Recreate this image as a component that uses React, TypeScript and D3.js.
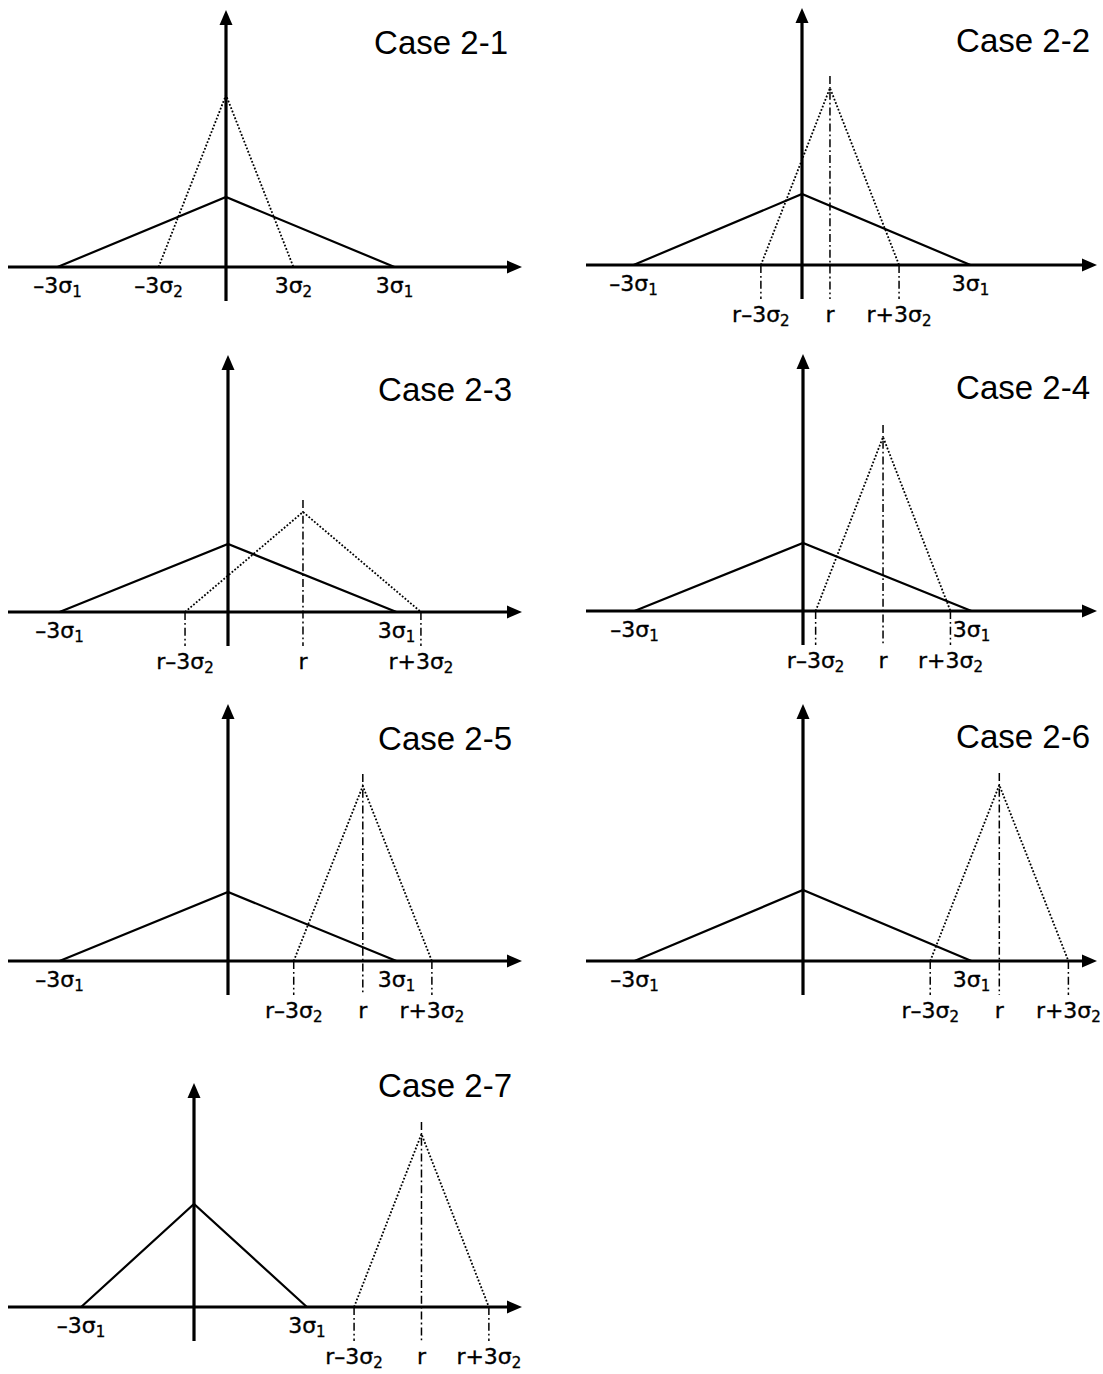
import React from "react";
import * as d3 from "d3";

// Case titles for the seven overlap configurations
const caseNames = ["Case 2-1", "Case 2-2", "Case 2-3", "Case 2-4", "Case 2-5", "Case 2-6", "Case 2-7"];
// Half-width (3σ1) of the first triangular distribution, in common x units
const threeSigma1 = [1, 1, 1, 1, 1, 1, 0.67];
// Half-width (3σ2) of the second triangular distribution
const threeSigma2 = [0.4, 0.41, 0.7, 0.4, 0.41, 0.41, 0.4];
// Centre r of the second distribution
const rOffset = [0, 0.166, 0.445, 0.475, 0.8, 1.165, 1.35];
// Peak heights of the two distributions
const peak1 = [0.7, 0.71, 0.68, 0.68, 0.69, 0.71, 1.03];
const peak2 = [1.72, 1.77, 1.0, 1.74, 1.75, 1.76, 1.73];
// Whether the second distribution is shifted (r markers shown)
const showR = [false, true, true, true, true, true, true];
// Axis labels
const sigma1Labels = ["–3σ", "3σ"];
const rLabels = ["r–3σ", "r", "r+3σ"];

// Panel layout: origin of each coordinate system and x-axis extent (px)
const layout = [
  { ox: 226, oy: 267, x0: 8, x1: 522, top: 10 },
  { ox: 802, oy: 265, x0: 586, x1: 1097, top: 8 },
  { ox: 228, oy: 612, x0: 8, x1: 522, top: 355 },
  { ox: 803, oy: 611, x0: 586, x1: 1097, top: 354 },
  { ox: 228, oy: 961, x0: 8, x1: 522, top: 704 },
  { ox: 803, oy: 961, x0: 586, x1: 1097, top: 704 },
  { ox: 194, oy: 1307, x0: 8, x1: 522, top: 1083 },
];
const titleRight = [508, 1090, 512, 1090, 512, 1090, 512];
const titleBaseline = [54, 52, 401, 399, 750, 748, 1097];

const UNIT_PX = 168.5;
const Y_UNIT_PX = 100;
const labelFont = "'DejaVu Sans', Verdana, sans-serif";
const titleFont = "'Liberation Sans', Arial, sans-serif";

function SubLabel({ x, y, main, sub }: { x: number; y: number; main: string; sub?: string }) {
  return (
    <text
      x={x}
      y={y}
      textAnchor="middle"
      fontFamily={labelFont}
      fontSize={22}
      fill="#000"
      stroke="#000"
      strokeWidth={0.35}
    >
      <tspan>{main}</tspan>
      {sub && (
        <tspan fontSize={15} dy={4}>
          {sub}
        </tspan>
      )}
    </text>
  );
}

function Panel({ i }: { i: number }) {
  const L = layout[i];
  const x = d3.scaleLinear().domain([-1, 1]).range([L.ox - UNIT_PX, L.ox + UNIT_PX]);
  const y = d3.scaleLinear().domain([0, 1]).range([L.oy, L.oy - Y_UNIT_PX]);
  const line = d3.line<[number, number]>().x((d) => x(d[0])).y((d) => y(d[1]));

  const s1 = threeSigma1[i];
  const s2 = threeSigma2[i];
  const r = rOffset[i];
  const tri1: [number, number][] = [[-s1, 0], [0, peak1[i]], [s1, 0]];
  const tri2: [number, number][] = [[r - s2, 0], [r, peak2[i]], [r + s2, 0]];

  const row1 = L.oy + 26;
  const row2 = L.oy + 57;
  const axisBottom = L.oy + 34;
  const dashDot = "8,3,1.8,3";

  return (
    <g>
      {/* second distribution (dotted) */}
      <path d={line(tri2) || ""} fill="none" stroke="#000" strokeWidth={1.8} strokeDasharray="1.8,1.8" />
      {/* first distribution (solid) */}
      <path d={line(tri1) || ""} fill="none" stroke="#000" strokeWidth={2.2} strokeLinejoin="miter" />

      {showR[i] && (
        <g stroke="#000" strokeWidth={1.5} strokeDasharray={dashDot} fill="none">
          <line x1={x(r)} x2={x(r)} y1={y(peak2[i]) - 12} y2={axisBottom} />
          <line x1={x(r - s2)} x2={x(r - s2)} y1={L.oy} y2={axisBottom} />
          <line x1={x(r + s2)} x2={x(r + s2)} y1={L.oy} y2={axisBottom} />
        </g>
      )}

      {/* axes */}
      <line x1={L.x0} x2={L.x1 - 10} y1={L.oy} y2={L.oy} stroke="#000" strokeWidth={3.2} />
      <path d={`M${L.x1},${L.oy} L${L.x1 - 15},${L.oy - 6.5} L${L.x1 - 15},${L.oy + 6.5} Z`} fill="#000" />
      <line x1={L.ox} x2={L.ox} y1={L.top + 10} y2={axisBottom} stroke="#000" strokeWidth={3.2} />
      <path d={`M${L.ox},${L.top} L${L.ox - 6.5},${L.top + 15} L${L.ox + 6.5},${L.top + 15} Z`} fill="#000" />

      {/* σ1 labels */}
      <SubLabel x={x(-s1)} y={row1} main={sigma1Labels[0]} sub="1" />
      <SubLabel x={x(s1)} y={row1} main={sigma1Labels[1]} sub="1" />

      {showR[i] ? (
        <g>
          <SubLabel x={x(r - s2)} y={row2} main={rLabels[0]} sub="2" />
          <SubLabel x={x(r)} y={row2} main={rLabels[1]} />
          <SubLabel x={x(r + s2)} y={row2} main={rLabels[2]} sub="2" />
        </g>
      ) : (
        <g>
          <SubLabel x={x(-s2)} y={row1} main={sigma1Labels[0]} sub="2" />
          <SubLabel x={x(s2)} y={row1} main={sigma1Labels[1]} sub="2" />
        </g>
      )}

      <text x={titleRight[i]} y={titleBaseline[i]} textAnchor="end" fontFamily={titleFont} fontSize={33} fill="#000">
        {caseNames[i]}
      </text>
    </g>
  );
}

export default function App() {
  return (
    <svg
      width={1103}
      height={1374}
      viewBox="0 0 1103 1374"
      style={{ position: "absolute", left: 0, top: 0, background: "#fff" }}
    >
      <rect x={0} y={0} width={1103} height={1374} fill="#fff" />
      {caseNames.map((_, i) => (
        <Panel key={i} i={i} />
      ))}
    </svg>
  );
}
